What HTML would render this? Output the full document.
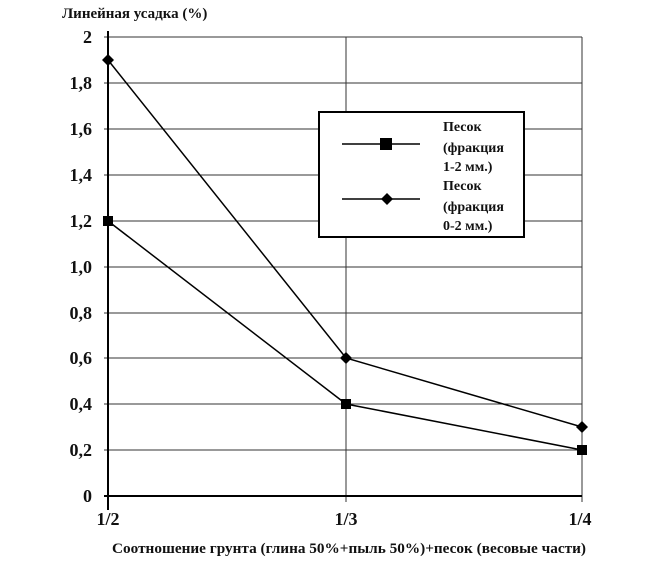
<!DOCTYPE html>
<html><head><meta charset="utf-8"><style>
body{margin:0;background:#fff}
svg text{font-family:"Liberation Serif","DejaVu Serif",serif;font-weight:bold;fill:#111}
</style></head><body>
<svg width="671" height="573" xmlns="http://www.w3.org/2000/svg">
<text x="62" y="18" font-size="15">Линейная усадка (%)</text>
<g stroke="#333" stroke-width="1">
<line x1="104" y1="37" x2="582" y2="37"/>
<line x1="104" y1="83" x2="582" y2="83"/>
<line x1="104" y1="129" x2="582" y2="129"/>
<line x1="104" y1="175" x2="582" y2="175"/>
<line x1="104" y1="221" x2="582" y2="221"/>
<line x1="104" y1="267" x2="582" y2="267"/>
<line x1="104" y1="313" x2="582" y2="313"/>
<line x1="104" y1="358" x2="582" y2="358"/>
<line x1="104" y1="404" x2="582" y2="404"/>
<line x1="104" y1="450" x2="582" y2="450"/>
<line x1="346" y1="37" x2="346" y2="502"/>
<line x1="582" y1="37" x2="582" y2="502"/>
</g>
<line x1="104" y1="496" x2="582" y2="496" stroke="#000" stroke-width="2"/>
<line x1="108" y1="31" x2="108" y2="510" stroke="#000" stroke-width="2"/>
<g font-size="18" text-anchor="end">
<text x="92" y="43">2</text><text x="92" y="89">1,8</text><text x="92" y="135">1,6</text>
<text x="92" y="181">1,4</text><text x="92" y="227">1,2</text><text x="92" y="273">1,0</text>
<text x="92" y="319">0,8</text><text x="92" y="364">0,6</text><text x="92" y="410">0,4</text>
<text x="92" y="456">0,2</text><text x="92" y="502">0</text>
</g>
<g font-size="18" text-anchor="middle">
<text x="108" y="525">1/2</text><text x="346" y="525">1/3</text><text x="580" y="525">1/4</text>
</g>
<text x="349" y="553" font-size="15" text-anchor="middle" textLength="474" lengthAdjust="spacingAndGlyphs">Соотношение грунта (глина 50%+пыль 50%)+песок (весовые части)</text>
<polyline points="108,221 346,404 582,450" fill="none" stroke="#000" stroke-width="1.5"/>
<polyline points="108,60 346,358 582,427" fill="none" stroke="#000" stroke-width="1.5"/>
<g fill="#000">
<rect x="103" y="216" width="10" height="10"/><rect x="341" y="399" width="10" height="10"/><rect x="577" y="445" width="10" height="10"/>
<polygon points="108,54 114,60 108,66 102,60"/><polygon points="346,352 352,358 346,364 340,358"/><polygon points="582,421 588,427 582,433 576,427"/>
</g>
<rect x="319" y="112" width="205" height="125" fill="#fff" stroke="#000" stroke-width="2"/>
<line x1="342" y1="144" x2="420" y2="144" stroke="#000" stroke-width="1.5"/>
<rect x="380" y="138" width="12" height="12" fill="#000"/>
<line x1="342" y1="199" x2="420" y2="199" stroke="#000" stroke-width="1.5"/>
<polygon points="387,193 393,199 387,205 381,199" fill="#000"/>
<g font-size="14">
<text x="443" y="131">Песок</text><text x="443" y="152">(фракция</text><text x="443" y="171">1-2 мм.)</text>
<text x="443" y="190">Песок</text><text x="443" y="211">(фракция</text><text x="443" y="230">0-2 мм.)</text>
</g>
</svg>
</body></html>
